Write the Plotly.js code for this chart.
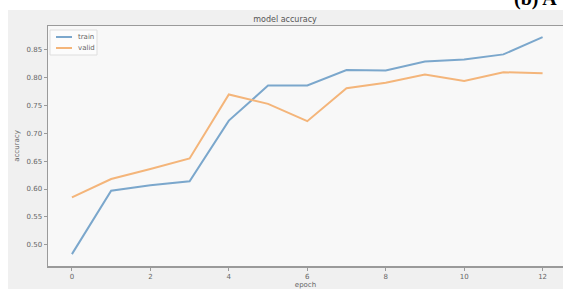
<!DOCTYPE html>
<html>
<head>
<meta charset="utf-8">
<script src="https://cdn.plot.ly/plotly-3.0.1.min.js"></script>
<style>html,body{margin:0;padding:0;background:#fff;}#chart{width:563px;height:289px;}</style>
</head>
<body>
<div id="chart"></div>
<script>
const epochs = [0,1,2,3,4,5,6,7,8,9,10,11,12];
const train = [0.483,0.597,0.607,0.614,0.723,0.786,0.786,0.814,0.813,0.829,0.833,0.842,0.873];
const valid = [0.585,0.618,0.636,0.655,0.770,0.753,0.722,0.781,0.791,0.806,0.794,0.810,0.808];
const xTicks = [0,2,4,6,8,10,12];
const yTicks = [0.50,0.55,0.60,0.65,0.70,0.75,0.80,0.85];
const seriesNames = ['train', 'valid'];
const seriesColors = ['#7ba7cc', '#f4b57a'];

const W = 563, H = 289, L = 48, T = 26, PW = 515, PH = 240;
// helpers converting pixel offsets to paper coordinates (layout only)
const px = v => (v - L) / PW;
const py = v => 1 - (v - T) / PH;

const traces = [
  {x: epochs, y: train, name: seriesNames[0], mode: 'lines', line: {color: seriesColors[0], width: 2}},
  {x: epochs, y: valid, name: seriesNames[1], mode: 'lines', line: {color: seriesColors[1], width: 2}}
];
const axisFont = {family: 'DejaVu Sans, sans-serif', size: 7, color: '#666'};

const legendShapes = [
  {type: 'rect', xref: 'paper', yref: 'paper', x0: px(50), x1: px(97), y0: py(55), y1: py(30),
   fillcolor: '#fcfcfc', line: {color: '#dedede', width: 1}}
];
const legendAnn = [];
seriesNames.forEach((n, i) => {
  const yy = 37 + i * 11;
  legendShapes.push({type: 'line', xref: 'paper', yref: 'paper', x0: px(56), x1: px(72), y0: py(yy), y1: py(yy),
    line: {color: seriesColors[i], width: 2}});
  legendAnn.push({text: n, xref: 'paper', yref: 'paper', x: px(76), y: py(yy), xanchor: 'left', yanchor: 'middle',
    showarrow: false, font: {family: 'DejaVu Sans, sans-serif', size: 7, color: '#666'}});
});

const layout = {
  width: W, height: H,
  margin: {l: L, r: 0, t: T, b: 23, pad: 0},
  paper_bgcolor: '#f0f0f0',
  plot_bgcolor: '#f8f8f8',
  showlegend: false,
  title: {text: 'model accuracy', x: 285/W, xref: 'container', xanchor: 'center', y: 1 - 19/H, yref: 'container', yanchor: 'middle',
    font: {family: 'DejaVu Sans, sans-serif', size: 8, color: '#555'}},
  xaxis: {range: [-0.61, 12.52], tickvals: xTicks, ticktext: xTicks.map(String), showgrid: false, zeroline: false,
    showline: true, linecolor: '#9a9a9a', linewidth: 1.5, mirror: true, ticks: 'outside', ticklen: 3, tickcolor: '#9a9a9a',
    tickfont: axisFont,
    title: {text: 'epoch', font: {family: 'DejaVu Sans, sans-serif', size: 7, color: '#666'}, standoff: 2}},
  yaxis: {range: [0.4617, 0.893], tickvals: yTicks, ticktext: yTicks.map(v => v.toFixed(2)), showgrid: false, zeroline: false,
    showline: true, linecolor: '#9a9a9a', linewidth: 1.5, ticks: 'outside', ticklen: 3, tickcolor: '#9a9a9a',
    tickfont: axisFont,
    title: {text: 'accuracy', font: {family: 'DejaVu Sans, sans-serif', size: 7, color: '#666'}, standoff: 6}},
  shapes: [
    {type: 'rect', xref: 'paper', yref: 'paper', x0: px(-2), x1: 1.02, y0: py(10), y1: py(-2),
     fillcolor: '#ffffff', line: {width: 0}, layer: 'below'},
    {type: 'rect', xref: 'paper', yref: 'paper', x0: px(-2), x1: px(8), y0: py(292), y1: py(-2),
     fillcolor: '#ffffff', line: {width: 0}, layer: 'below'}
  ].concat(legendShapes),
  annotations: [
    {text: '<b>(b) A</b>', xref: 'paper', yref: 'paper', x: px(512), y: py(8), xanchor: 'left', yanchor: 'bottom',
     showarrow: false, font: {family: 'Liberation Serif, serif', size: 20, color: '#000'}, yshift: -4}
  ].concat(legendAnn)
};
Plotly.newPlot('chart', traces, layout, {staticPlot: true, displayModeBar: false});
</script>
</body>
</html>
